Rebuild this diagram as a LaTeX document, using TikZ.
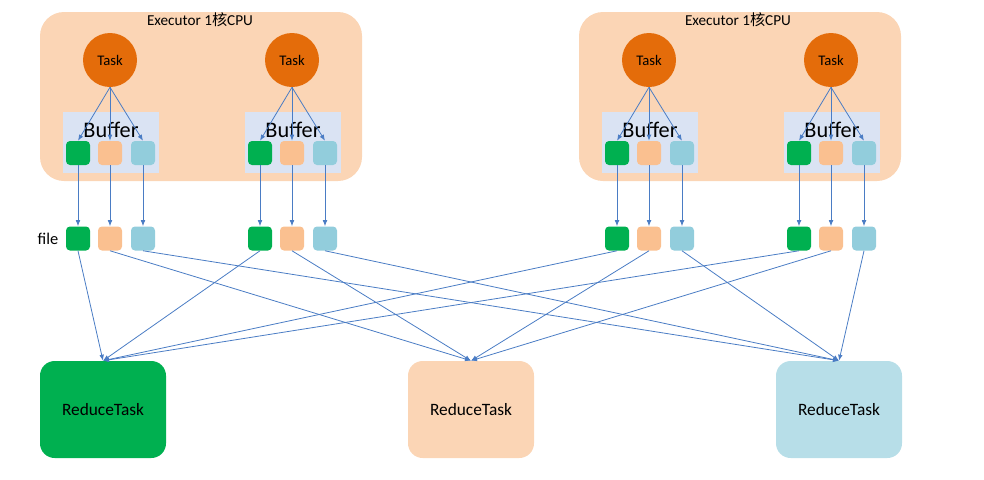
\documentclass[tikz,border=0pt]{standalone}
\usepackage{fontspec}
\setmainfont{Carlito}
\newfontfamily\cjk{Noto Sans CJK SC}
\usetikzlibrary{arrows.meta}
\definecolor{arrowblue}{HTML}{4A7CC4}
\definecolor{executor}{HTML}{FBD5B5}
\definecolor{taskorange}{HTML}{E46C0A}
\definecolor{bufferbg}{HTML}{DAE3F3}
\definecolor{partgreen}{HTML}{00B050}
\definecolor{partpeach}{HTML}{FAC090}
\definecolor{partblue}{HTML}{92CDDC}
\definecolor{reduceblue}{HTML}{B7DEE8}

\begin{document}
\begin{tikzpicture}[x=0.75pt, y=-0.75pt]
            \tikzset{flow/.style={-{Latex[length=4.5pt,width=3.5pt]}, arrowblue, line width=0.6pt}}
            \tikzset{executorbox/.style={fill=executor, rounded corners=18pt, minimum width=241.5pt, minimum height=126.75pt}}
            \tikzset{task/.style={circle, fill=taskorange, minimum size=40.5pt, inner sep=0pt, font=\fontsize{11}{12}\selectfont}}
            \tikzset{bufferbox/.style={fill=bufferbg, minimum width=72pt, minimum height=45.75pt}}
            \tikzset{part/.style={rounded corners=3pt, minimum size=18pt, inner sep=0pt}}
            \tikzset{reducebox/.style={rounded corners=11pt, minimum width=94.5pt, minimum height=72.75pt, font=\fontsize{13}{15}\selectfont}}
            \useasboundingbox (0,0) rectangle (984,479);

            \node[executorbox] (ex1) at (201,96.5) {};
            \node[executorbox] (ex2) at (740,96.5) {};
            \node[font=\fontsize{11.4}{13}\selectfont] (exl1) at (200,20) {Executor 1{\cjk 核}CPU};
            \node[font=\fontsize{11.4}{13}\selectfont] (exl2) at (738,20) {Executor 1{\cjk 核}CPU};

            \node[reducebox, fill=partgreen] (r1) at (103,409.5) {ReduceTask};
            \node[reducebox, fill=executor] (r2) at (471,409.5) {ReduceTask};
            \node[reducebox, fill=reduceblue] (r3) at (839,409.5) {ReduceTask};
            \node[font=\fontsize{12.3}{14}\selectfont] (filel) at (48,239) {file};

            \foreach \n/\x in {1/110, 2/292, 3/649, 4/831} {
                \node[task] (t\n) at (\x,60) {Task};
                \node[bufferbox] (buf\n) at (\x+1,142.5) {};
                \node[font=\fontsize{16.7}{18}\selectfont] (bl\n) at (\x+1,130) {Buffer};
                \node[part, fill=partgreen] (bg\n) at (\x-32,153) {};
                \node[part, fill=partpeach] (bp\n) at (\x,153) {};
                \node[part, fill=partblue] (bb\n) at (\x+33,153) {};
                \node[part, fill=partgreen] (fg\n) at (\x-32,238.5) {};
                \node[part, fill=partpeach] (fp\n) at (\x,238.5) {};
                \node[part, fill=partblue] (fb\n) at (\x+33,238.5) {};
                \draw[flow] (t\n.south) -- (bg\n.north);
                \draw[flow] (t\n.south) -- (bp\n.north);
                \draw[flow] (t\n.south) -- (bb\n.north);
                \draw[flow] (bg\n.south) -- (fg\n.north);
                \draw[flow] (bp\n.south) -- (fp\n.north);
                \draw[flow] (bb\n.south) -- (fb\n.north);
                \draw[flow] (fg\n.south) -- (r1.north);
                \draw[flow] (fp\n.south) -- (r2.north);
                \draw[flow] (fb\n.south) -- (r3.north);
            }
        \end{tikzpicture}
\end{document}
